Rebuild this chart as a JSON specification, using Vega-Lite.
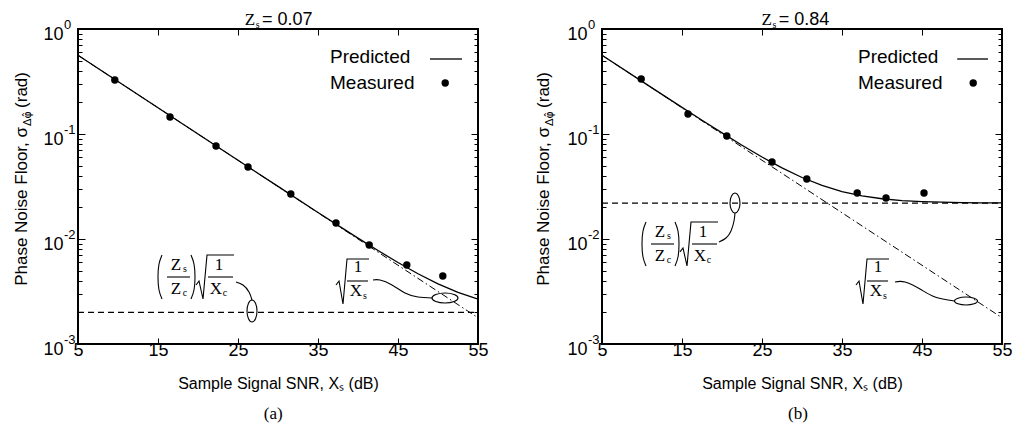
{
"$schema":"https://vega.github.io/schema/vega-lite/v6.json",
"background":"white",
"padding":{"left":11,"top":10,"right":0,"bottom":5},
"config":{
  "view":{"stroke":"black","strokeWidth":2},
  "axis":{"grid":false,"domain":false,"tickColor":"black","labelColor":"black","titleColor":"black","labelFont":"Liberation Sans","titleFont":"Liberation Sans","labelFontSize":18,"titleFontSize":16,"titleFontWeight":"normal"},
  "text":{"color":"black"}
},
"data":{"values":[
{"p":"a","k":"me","x":9.6,"y":0.327},
{"p":"a","k":"me","x":16.5,"y":0.145},
{"p":"a","k":"me","x":22.25,"y":0.0769},
{"p":"a","k":"me","x":26.25,"y":0.0485},
{"p":"a","k":"me","x":31.6,"y":0.0268},
{"p":"a","k":"me","x":37.25,"y":0.0142},
{"p":"a","k":"me","x":41.4,"y":0.00877},
{"p":"a","k":"me","x":46.1,"y":0.00565},
{"p":"a","k":"me","x":50.6,"y":0.00444},
{"p":"b","k":"me","x":9.9,"y":0.334},
{"p":"b","k":"me","x":15.75,"y":0.155},
{"p":"b","k":"me","x":20.6,"y":0.0957},
{"p":"b","k":"me","x":26.25,"y":0.0541},
{"p":"b","k":"me","x":30.6,"y":0.0373},
{"p":"b","k":"me","x":36.9,"y":0.0274},
{"p":"b","k":"me","x":40.5,"y":0.0246},
{"p":"b","k":"me","x":45.25,"y":0.0274},
{"p":"a","k":"pr","x":5,"y":0.5623},
{"p":"a","k":"pr","x":10,"y":0.3162},
{"p":"a","k":"pr","x":15,"y":0.1778},
{"p":"a","k":"pr","x":20,"y":0.1},
{"p":"a","k":"pr","x":25,"y":0.05627},
{"p":"a","k":"pr","x":30,"y":0.03169},
{"p":"a","k":"pr","x":35,"y":0.01789},
{"p":"a","k":"pr","x":37.5,"y":0.01348},
{"p":"a","k":"pr","x":40,"y":0.0102},
{"p":"a","k":"pr","x":42.5,"y":0.007761},
{"p":"a","k":"pr","x":45,"y":0.005968},
{"p":"a","k":"pr","x":47.5,"y":0.004667},
{"p":"a","k":"pr","x":50,"y":0.003742},
{"p":"a","k":"pr","x":52.5,"y":0.003102},
{"p":"a","k":"pr","x":55,"y":0.002676},
{"p":"b","k":"pr","x":5,"y":0.5627},
{"p":"b","k":"pr","x":10,"y":0.317},
{"p":"b","k":"pr","x":15,"y":0.1792},
{"p":"b","k":"pr","x":17.5,"y":0.1352},
{"p":"b","k":"pr","x":20,"y":0.1024},
{"p":"b","k":"pr","x":22.5,"y":0.07815},
{"p":"b","k":"pr","x":25,"y":0.06039},
{"p":"b","k":"pr","x":27.5,"y":0.04756},
{"p":"b","k":"pr","x":30,"y":0.03852},
{"p":"b","k":"pr","x":32.5,"y":0.03235},
{"p":"b","k":"pr","x":35,"y":0.02829},
{"p":"b","k":"pr","x":37.5,"y":0.02573},
{"p":"b","k":"pr","x":40,"y":0.02417},
{"p":"b","k":"pr","x":42.5,"y":0.02324},
{"p":"b","k":"pr","x":45,"y":0.02271},
{"p":"b","k":"pr","x":47.5,"y":0.0224},
{"p":"b","k":"pr","x":50,"y":0.02223},
{"p":"b","k":"pr","x":52.5,"y":0.02213},
{"p":"b","k":"pr","x":55,"y":0.02207},
{"p":"a","k":"as","x":5,"y":0.5623},
{"p":"a","k":"as","x":55,"y":0.001778},
{"p":"b","k":"as","x":5,"y":0.5623},
{"p":"b","k":"as","x":55,"y":0.001778},
{"p":"a","k":"fl","x":5,"y":0.002},
{"p":"a","k":"fl","x":55,"y":0.002},
{"p":"b","k":"fl","x":5,"y":0.022},
{"p":"b","k":"fl","x":55,"y":0.022},
{"p":"a","k":"ll","x":49,"y":0.5179},
{"p":"a","k":"ll","x":53,"y":0.5179},
{"p":"b","k":"ll","x":49.4,"y":0.5179},
{"p":"b","k":"ll","x":53.25,"y":0.5179},
{"p":"a","k":"ld","x":50.9,"y":0.306},
{"p":"b","k":"ld","x":51.4,"y":0.306},
{"p":"a","k":"lg","x":36.5,"y":0.5412,"t":"Predicted"},
{"p":"a","k":"lg","x":36.5,"y":0.306,"t":"Measured"},
{"p":"b","k":"lg","x":37,"y":0.5412,"t":"Predicted"},
{"p":"b","k":"lg","x":37,"y":0.306,"t":"Measured"},
{"p":"a","k":"tt","x":28,"y":1.205,"t":"= 0.07"},
{"p":"b","k":"tt","x":27.1,"y":1.205,"t":"= 0.84"},
{"p":"a","k":"yt","x":-2.0,"y":0.1166,"t":"Phase Noise Floor, σ"},
{"p":"a","k":"yt","x":-2.0,"y":0.3895,"t":"(rad)"},
{"p":"b","k":"yt","x":-2.25,"y":0.1166,"t":"Phase Noise Floor, σ"},
{"p":"b","k":"yt","x":-2.25,"y":0.3895,"t":"(rad)"},
{"p":"a","k":"ys","x":-1.25,"y":0.1192,"t":"Δφ̂"},
{"p":"b","k":"ys","x":-1.5,"y":0.1192,"t":"Δφ̂"},
{"p":"a","k":"sm","x":26.5,"y":1.205,"t":"Z"},
{"p":"a","k":"sm","x":17.25,"y":0.005654,"t":"Z"},
{"p":"a","k":"sm","x":17.25,"y":0.003341,"t":"Z"},
{"p":"a","k":"sm","x":22.625,"y":0.005654,"t":"1"},
{"p":"a","k":"sm","x":22.25,"y":0.003341,"t":"X"},
{"p":"a","k":"sm","x":40,"y":0.005412,"t":"1"},
{"p":"a","k":"sm","x":39.75,"y":0.003198,"t":"X"},
{"p":"a","k":"sm","x":29.4,"y":0.000215,"t":"(a)"},
{"p":"b","k":"sm","x":25.6,"y":1.205,"t":"Z"},
{"p":"b","k":"sm","x":12.25,"y":0.011659,"t":"Z"},
{"p":"b","k":"sm","x":12.25,"y":0.006889,"t":"Z"},
{"p":"b","k":"sm","x":17.625,"y":0.011659,"t":"1"},
{"p":"b","k":"sm","x":17.25,"y":0.006889,"t":"X"},
{"p":"b","k":"sm","x":39.5,"y":0.005412,"t":"1"},
{"p":"b","k":"sm","x":39.25,"y":0.003198,"t":"X"},
{"p":"b","k":"sm","x":29.5,"y":0.000215,"t":"(b)"},
{"p":"a","k":"ss","x":27.45,"y":1.08,"t":"s"},
{"p":"a","k":"ss","x":18.375,"y":0.005179,"t":"s"},
{"p":"a","k":"ss","x":18.375,"y":0.00306,"t":"c"},
{"p":"a","k":"ss","x":23.375,"y":0.00306,"t":"c"},
{"p":"a","k":"ss","x":40.875,"y":0.002866,"t":"s"},
{"p":"b","k":"ss","x":26.55,"y":1.08,"t":"s"},
{"p":"b","k":"ss","x":13.375,"y":0.010679,"t":"s"},
{"p":"b","k":"ss","x":13.375,"y":0.00631,"t":"c"},
{"p":"b","k":"ss","x":18.375,"y":0.00631,"t":"c"},
{"p":"b","k":"ss","x":40.375,"y":0.002866,"t":"s"},
{"p":"a","k":"ex","x":5,"y":1,"t":"0"},
{"p":"a","k":"ex","x":5,"y":0.1,"t":"-1"},
{"p":"a","k":"ex","x":5,"y":0.01,"t":"-2"},
{"p":"a","k":"ex","x":5,"y":0.001,"t":"-3"},
{"p":"b","k":"ex","x":5,"y":1,"t":"0"},
{"p":"b","k":"ex","x":5,"y":0.1,"t":"-1"},
{"p":"b","k":"ex","x":5,"y":0.01,"t":"-2"},
{"p":"b","k":"ex","x":5,"y":0.001,"t":"-3"},
{"p":"a","k":"st","g":"a1","o":1,"x":16.125,"y":0.004346},
{"p":"a","k":"st","g":"a1","o":2,"x":19.0,"y":0.004346},
{"p":"a","k":"st","g":"a2","o":1,"x":19.75,"y":0.00365},
{"p":"a","k":"st","g":"a2","o":2,"x":20.125,"y":0.003981},
{"p":"a","k":"st","g":"a2","o":3,"x":20.625,"y":0.002683},
{"p":"a","k":"st","g":"a2","o":4,"x":21.125,"y":0.00704},
{"p":"a","k":"st","g":"a2","o":5,"x":24.5,"y":0.00704},
{"p":"a","k":"st","g":"a3","o":1,"x":21.25,"y":0.004346},
{"p":"a","k":"st","g":"a3","o":2,"x":24.375,"y":0.004346},
{"p":"a","k":"st","g":"a4","o":1,"x":37.25,"y":0.00365},
{"p":"a","k":"st","g":"a4","o":2,"x":37.625,"y":0.003981},
{"p":"a","k":"st","g":"a4","o":3,"x":38.125,"y":0.002404},
{"p":"a","k":"st","g":"a4","o":4,"x":38.625,"y":0.006449},
{"p":"a","k":"st","g":"a4","o":5,"x":41.375,"y":0.006449},
{"p":"a","k":"st","g":"a5","o":1,"x":38.625,"y":0.003981},
{"p":"a","k":"st","g":"a5","o":2,"x":41.25,"y":0.003981},
{"p":"b","k":"st","g":"b1","o":1,"x":11.125,"y":0.008961},
{"p":"b","k":"st","g":"b1","o":2,"x":14.0,"y":0.008961},
{"p":"b","k":"st","g":"b2","o":1,"x":14.75,"y":0.00753},
{"p":"b","k":"st","g":"b2","o":2,"x":15.125,"y":0.008209},
{"p":"b","k":"st","g":"b2","o":3,"x":15.625,"y":0.005532},
{"p":"b","k":"st","g":"b2","o":4,"x":16.125,"y":0.01452},
{"p":"b","k":"st","g":"b2","o":5,"x":19.5,"y":0.01452},
{"p":"b","k":"st","g":"b3","o":1,"x":16.25,"y":0.008961},
{"p":"b","k":"st","g":"b3","o":2,"x":19.375,"y":0.008961},
{"p":"b","k":"st","g":"b4","o":1,"x":36.75,"y":0.00365},
{"p":"b","k":"st","g":"b4","o":2,"x":37.125,"y":0.003981},
{"p":"b","k":"st","g":"b4","o":3,"x":37.625,"y":0.002404},
{"p":"b","k":"st","g":"b4","o":4,"x":38.125,"y":0.006449},
{"p":"b","k":"st","g":"b4","o":5,"x":40.875,"y":0.006449},
{"p":"b","k":"st","g":"b5","o":1,"x":38.125,"y":0.003981},
{"p":"b","k":"st","g":"b5","o":2,"x":40.75,"y":0.003981},
{"p":"a","k":"cv","g":"ac1","o":1,"x":15.5,"y":0.00704},
{"p":"a","k":"cv","g":"ac1","o":2,"x":15.125,"y":0.005779},
{"p":"a","k":"cv","g":"ac1","o":3,"x":15.0,"y":0.004346},
{"p":"a","k":"cv","g":"ac1","o":4,"x":15.125,"y":0.003268},
{"p":"a","k":"cv","g":"ac1","o":5,"x":15.5,"y":0.002683},
{"p":"a","k":"cv","g":"ac2","o":1,"x":19.125,"y":0.00704},
{"p":"a","k":"cv","g":"ac2","o":2,"x":19.5,"y":0.005779},
{"p":"a","k":"cv","g":"ac2","o":3,"x":19.625,"y":0.004346},
{"p":"a","k":"cv","g":"ac2","o":4,"x":19.5,"y":0.003268},
{"p":"a","k":"cv","g":"ac2","o":5,"x":19.125,"y":0.002683},
{"p":"a","k":"cv","g":"ac3","o":1,"x":24.75,"y":0.003896},
{"p":"a","k":"cv","g":"ac3","o":2,"x":25.625,"y":0.003647},
{"p":"a","k":"cv","g":"ac3","o":3,"x":26.375,"y":0.003129},
{"p":"a","k":"cv","g":"ac3","o":4,"x":26.75,"y":0.002625},
{"p":"a","k":"cv","g":"ac4","o":1,"x":41.875,"y":0.004069},
{"p":"a","k":"cv","g":"ac4","o":2,"x":42.75,"y":0.004069},
{"p":"a","k":"cv","g":"ac4","o":3,"x":44.25,"y":0.003647},
{"p":"a","k":"cv","g":"ac4","o":4,"x":45.875,"y":0.00306},
{"p":"a","k":"cv","g":"ac4","o":5,"x":47.5,"y":0.002803},
{"p":"a","k":"cv","g":"ac4","o":6,"x":49.25,"y":0.002743},
{"p":"b","k":"cv","g":"bc1","o":1,"x":10.5,"y":0.01452},
{"p":"b","k":"cv","g":"bc1","o":2,"x":10.125,"y":0.011916},
{"p":"b","k":"cv","g":"bc1","o":3,"x":10.0,"y":0.008961},
{"p":"b","k":"cv","g":"bc1","o":4,"x":10.125,"y":0.006739},
{"p":"b","k":"cv","g":"bc1","o":5,"x":10.5,"y":0.005532},
{"p":"b","k":"cv","g":"bc2","o":1,"x":14.125,"y":0.01452},
{"p":"b","k":"cv","g":"bc2","o":2,"x":14.5,"y":0.011916},
{"p":"b","k":"cv","g":"bc2","o":3,"x":14.625,"y":0.008961},
{"p":"b","k":"cv","g":"bc2","o":4,"x":14.5,"y":0.006739},
{"p":"b","k":"cv","g":"bc2","o":5,"x":14.125,"y":0.005532},
{"p":"b","k":"cv","g":"bc3","o":1,"x":21.625,"y":0.01768},
{"p":"b","k":"cv","g":"bc3","o":2,"x":21.5,"y":0.01484},
{"p":"b","k":"cv","g":"bc3","o":3,"x":21.125,"y":0.01192},
{"p":"b","k":"cv","g":"bc3","o":4,"x":20.5,"y":0.01022},
{"p":"b","k":"cv","g":"bc3","o":5,"x":19.625,"y":0.009364},
{"p":"b","k":"cv","g":"bc4","o":1,"x":41.625,"y":0.003896},
{"p":"b","k":"cv","g":"bc4","o":2,"x":42.875,"y":0.003896},
{"p":"b","k":"cv","g":"bc4","o":3,"x":44.75,"y":0.003341},
{"p":"b","k":"cv","g":"bc4","o":4,"x":46.625,"y":0.002803},
{"p":"b","k":"cv","g":"bc4","o":5,"x":49.06,"y":0.002568},
{"p":"a","k":"el","g":"ae1","o":1,"x":26.75,"y":0.002625},
{"p":"a","k":"el","g":"ae1","o":2,"x":27.19,"y":0.002446},
{"p":"a","k":"el","g":"ae1","o":3,"x":27.375,"y":0.002062},
{"p":"a","k":"el","g":"ae1","o":4,"x":27.19,"y":0.001738},
{"p":"a","k":"el","g":"ae1","o":5,"x":26.75,"y":0.00162},
{"p":"a","k":"el","g":"ae1","o":6,"x":26.31,"y":0.001738},
{"p":"a","k":"el","g":"ae1","o":7,"x":26.125,"y":0.002062},
{"p":"a","k":"el","g":"ae1","o":8,"x":26.31,"y":0.002446},
{"p":"a","k":"el","g":"ae2","o":1,"x":49.25,"y":0.002743},
{"p":"a","k":"el","g":"ae2","o":2,"x":49.725,"y":0.002961},
{"p":"a","k":"el","g":"ae2","o":3,"x":50.875,"y":0.00306},
{"p":"a","k":"el","g":"ae2","o":4,"x":52.025,"y":0.002961},
{"p":"a","k":"el","g":"ae2","o":5,"x":52.5,"y":0.002743},
{"p":"a","k":"el","g":"ae2","o":6,"x":52.025,"y":0.002539},
{"p":"a","k":"el","g":"ae2","o":7,"x":50.875,"y":0.002458},
{"p":"a","k":"el","g":"ae2","o":8,"x":49.725,"y":0.002539},
{"p":"b","k":"el","g":"be1","o":1,"x":21.625,"y":0.02743},
{"p":"b","k":"el","g":"be1","o":2,"x":22.0625,"y":0.02567},
{"p":"b","k":"el","g":"be1","o":3,"x":22.25,"y":0.022},
{"p":"b","k":"el","g":"be1","o":4,"x":22.0625,"y":0.01889},
{"p":"b","k":"el","g":"be1","o":5,"x":21.625,"y":0.01768},
{"p":"b","k":"el","g":"be1","o":6,"x":21.1875,"y":0.01889},
{"p":"b","k":"el","g":"be1","o":7,"x":21.0,"y":0.022},
{"p":"b","k":"el","g":"be1","o":8,"x":21.1875,"y":0.02567},
{"p":"b","k":"el","g":"be2","o":1,"x":49.06,"y":0.002568},
{"p":"b","k":"el","g":"be2","o":2,"x":49.49,"y":0.002731},
{"p":"b","k":"el","g":"be2","o":3,"x":50.5,"y":0.002804},
{"p":"b","k":"el","g":"be2","o":4,"x":51.51,"y":0.002731},
{"p":"b","k":"el","g":"be2","o":5,"x":51.94,"y":0.002568},
{"p":"b","k":"el","g":"be2","o":6,"x":51.51,"y":0.002414},
{"p":"b","k":"el","g":"be2","o":7,"x":50.5,"y":0.002352},
{"p":"b","k":"el","g":"be2","o":8,"x":49.49,"y":0.002414}
]},
"facet":{"column":{"field":"p","type":"nominal","title":null,"header":{"title":null,"labels":false}}},
"spacing":44,
"resolve":{"axis":{"x":"independent","y":"independent"}},
"spec":{
 "width":400,"height":315,
 "layer":[
  {"transform":[{"filter":"datum.k==='fl'"}],
   "mark":{"type":"line","color":"black","strokeWidth":1.2,"strokeDash":[6,4]},
   "encoding":{
    "x":{"field":"x","type":"quantitative","scale":{"domain":[5,55],"nice":false,"zero":false},
         "axis":{"orient":"bottom","values":[5,15,25,35,45,55],"title":"Sample Signal SNR, Xₛ (dB)","tickSize":-6,"labelPadding":3,"titlePadding":16,"labelFlush":false}},
    "y":{"field":"y","type":"quantitative","scale":{"type":"log","domain":[0.001,1],"nice":false},
         "axis":{"orient":"left","values":[0.001,0.002,0.003,0.004,0.005,0.006,0.007,0.008,0.009,0.01,0.02,0.03,0.04,0.05,0.06,0.07,0.08,0.09,0.1,0.2,0.3,0.4,0.5,0.6,0.7,0.8,0.9,1],
                 "labelExpr":"indexof([0.001,0.01,0.1,1],datum.value)>=0?'10':''",
                 "tickSize":{"condition":{"test":"indexof([0.001,0.01,0.1,1],datum.value)>=0","value":-7},"value":-4},
                 "title":null,"labelPadding":22,"labelOffset":5,"labelFlush":false,"labelOverlap":false}}
   }},
  {"transform":[{"filter":"datum.k==='as'"}],
   "mark":{"type":"line","color":"black","strokeWidth":1,"strokeDash":[7,3,1.5,3]},
   "encoding":{
    "x":{"field":"x","type":"quantitative","axis":{"orient":"top","values":[5,15,25,35,45,55],"labels":false,"title":null,"tickSize":-6}},
    "y":{"field":"y","type":"quantitative","axis":{"orient":"right","values":[0.001,0.002,0.003,0.004,0.005,0.006,0.007,0.008,0.009,0.01,0.02,0.03,0.04,0.05,0.06,0.07,0.08,0.09,0.1,0.2,0.3,0.4,0.5,0.6,0.7,0.8,0.9,1],
                 "labels":false,"title":null,
                 "tickSize":{"condition":{"test":"indexof([0.001,0.01,0.1,1],datum.value)>=0","value":-7},"value":-4}}}
   }},
  {"transform":[{"filter":"datum.k==='pr'||datum.k==='ll'"}],
   "mark":{"type":"line","color":"black","strokeWidth":1.3},
   "encoding":{"x":{"field":"x","type":"quantitative","axis":null},"y":{"field":"y","type":"quantitative","axis":null},"detail":{"field":"k"}}},
  {"transform":[{"filter":"datum.k==='me'||datum.k==='ld'"}],
   "mark":{"type":"point","filled":true,"color":"black","size":55,"opacity":1},
   "encoding":{"x":{"field":"x","type":"quantitative","axis":null},"y":{"field":"y","type":"quantitative","axis":null}}},
  {"transform":[{"filter":"datum.k==='st'"}],
   "mark":{"type":"line","color":"black","strokeWidth":1.1},
   "encoding":{"x":{"field":"x","type":"quantitative","axis":null},"y":{"field":"y","type":"quantitative","axis":null},"detail":{"field":"g"},"order":{"field":"o"}}},
  {"transform":[{"filter":"datum.k==='cv'"}],
   "mark":{"type":"line","color":"black","strokeWidth":1.1,"interpolate":"natural"},
   "encoding":{"x":{"field":"x","type":"quantitative","axis":null},"y":{"field":"y","type":"quantitative","axis":null},"detail":{"field":"g"},"order":{"field":"o"}}},
  {"transform":[{"filter":"datum.k==='el'"}],
   "mark":{"type":"line","color":"black","strokeWidth":1.1,"interpolate":"cardinal-closed"},
   "encoding":{"x":{"field":"x","type":"quantitative","axis":null},"y":{"field":"y","type":"quantitative","axis":null},"detail":{"field":"g"},"order":{"field":"o"}}},
  {"transform":[{"filter":"datum.k==='lg'"}],
   "mark":{"type":"text","font":"Liberation Sans","fontSize":19,"align":"left","baseline":"middle"},
   "encoding":{"x":{"field":"x","type":"quantitative","axis":null},"y":{"field":"y","type":"quantitative","axis":null},"text":{"field":"t"}}},
  {"transform":[{"filter":"datum.k==='tt'"}],
   "mark":{"type":"text","font":"Liberation Sans","fontSize":18,"align":"left","baseline":"middle"},
   "encoding":{"x":{"field":"x","type":"quantitative","axis":null},"y":{"field":"y","type":"quantitative","axis":null},"text":{"field":"t"}}},
  {"transform":[{"filter":"datum.k==='yt'"}],
   "mark":{"type":"text","font":"Liberation Sans","fontSize":17,"align":"right","baseline":"middle","angle":270},
   "encoding":{"x":{"field":"x","type":"quantitative","axis":null},"y":{"field":"y","type":"quantitative","axis":null},"text":{"field":"t"}}},
  {"transform":[{"filter":"datum.k==='ys'"}],
   "mark":{"type":"text","font":"DejaVu Sans","fontSize":11,"align":"left","baseline":"middle","angle":270},
   "encoding":{"x":{"field":"x","type":"quantitative","axis":null},"y":{"field":"y","type":"quantitative","axis":null},"text":{"field":"t"}}},
  {"transform":[{"filter":"datum.k==='sm'"}],
   "mark":{"type":"text","font":"Liberation Serif","fontSize":17,"align":"center","baseline":"middle"},
   "encoding":{"x":{"field":"x","type":"quantitative","axis":null},"y":{"field":"y","type":"quantitative","axis":null},"text":{"field":"t"}}},
  {"transform":[{"filter":"datum.k==='ss'"}],
   "mark":{"type":"text","font":"Liberation Serif","fontSize":10,"align":"center","baseline":"middle"},
   "encoding":{"x":{"field":"x","type":"quantitative","axis":null},"y":{"field":"y","type":"quantitative","axis":null},"text":{"field":"t"}}},
  {"transform":[{"filter":"datum.k==='ex'"}],
   "mark":{"type":"text","font":"Liberation Sans","fontSize":13,"align":"left","baseline":"middle","dx":-14,"dy":-4},
   "encoding":{"x":{"field":"x","type":"quantitative","axis":null},"y":{"field":"y","type":"quantitative","axis":null},"text":{"field":"t"}}}
 ]
}
}
